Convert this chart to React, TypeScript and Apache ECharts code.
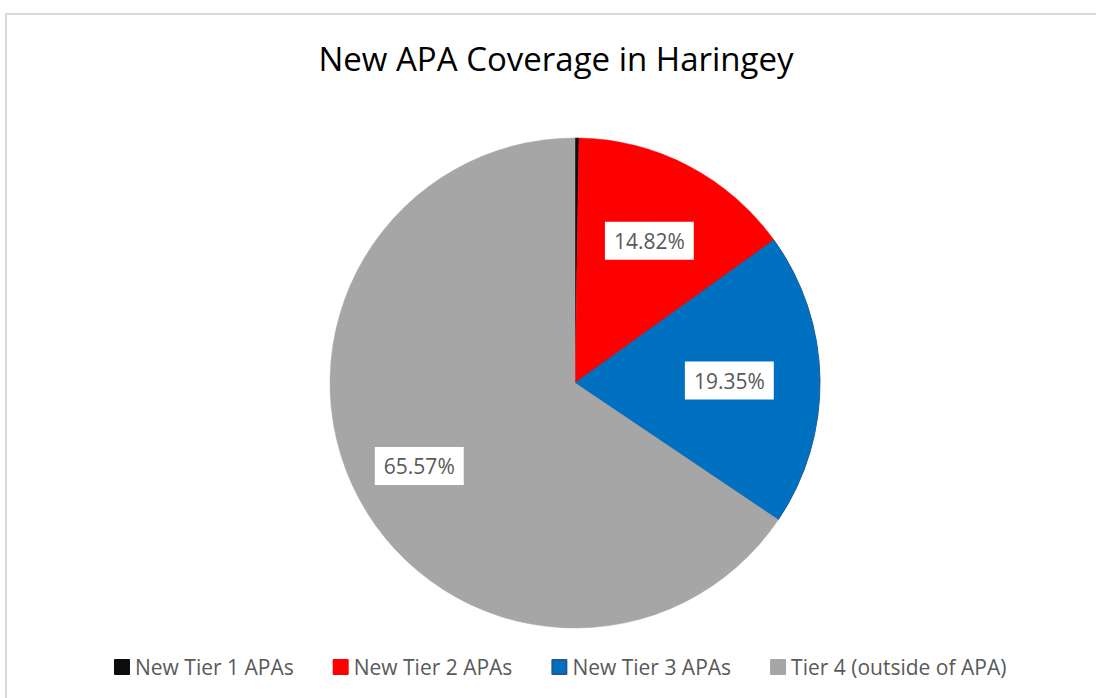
import React, { useEffect, useRef } from "react";
import * as echarts from "echarts";

const categories = ["New Tier 1 APAs", "New Tier 2 APAs", "New Tier 3 APAs", "Tier 4 (outside of APA)"];
const values = [0.26, 14.82, 19.35, 65.57];
const colors = ["#0D0D0D", "#FF0000", "#0070C0", "#A6A6A6"];
const borderColors = ["#0D0D0D", "#FF0000", "#1F5A96", "#A6A6A6"];
const showLabel = [false, true, true, true];
const labelRadiusFrac = [0.6, 0.655, 0.63, 0.72];

const CX = 575;
const CY = 383;
const R = 245;
const FONT = "'Open Sans', 'Liberation Sans', sans-serif";

export default function App() {
  const ref = useRef<HTMLDivElement>(null);
  useEffect(() => {
    if (!ref.current) return;
    const chart = echarts.init(ref.current, undefined, { renderer: "svg" });
    const total = values.reduce((a, b) => a + b, 0);
    const cum: number[] = [];
    let acc = 0;
    values.forEach((v) => {
      cum.push(acc + v / 2);
      acc += v;
    });
    chart.setOption({
      animation: false,
      backgroundColor: "#ffffff",
      title: {
        text: "New APA Coverage in Haringey",
        left: 551,
        textAlign: "center",
        top: 37,
        textStyle: { fontFamily: FONT, fontSize: 33, fontWeight: "normal", color: "#000000" },
      },
      graphic: [
        {
          type: "rect",
          shape: { x: 6, y: 14, width: 1200, height: 800 },
          style: { fill: "none", stroke: "#D9D9D9", lineWidth: 2 },
          silent: true,
        },
      ],
      legend: {
        data: categories,
        left: 114,
        top: 656,
        padding: 0,
        itemWidth: 14,
        itemHeight: 14,
        itemGap: 39,
        icon: "rect",
        textStyle: { fontFamily: FONT, fontSize: 21, color: "#595959", lineHeight: 22, padding: [0, 0, 0, 1] },
      },
      series: [
        {
          type: "pie",
          center: [CX, CY],
          radius: [0, R],
          startAngle: 90,
          clockwise: true,
          avoidLabelOverlap: false,
          data: categories.map((name, i) => ({
            name,
            value: values[i],
            itemStyle: { color: colors[i], borderColor: borderColors[i], borderWidth: i === 2 ? 1 : 0.5 },
            label: { show: showLabel[i] },
          })),
          label: {
            show: true,
            position: "inside",
            formatter: (p: any) => p.value.toFixed(2) + "%",
            fontFamily: FONT,
            fontSize: 21,
            color: "#595959",
            backgroundColor: "#ffffff",
            padding: [8, 9, 8, 9],
            lineHeight: 22,
          },
          labelLine: { show: false },
          labelLayout: (params: any) => {
            const i = params.dataIndex;
            const ang = (cum[i] / total) * Math.PI * 2;
            const r = R * labelRadiusFrac[i];
            return {
              x: CX + r * Math.sin(ang),
              y: CY - r * Math.cos(ang),
              align: "center",
              verticalAlign: "middle",
            };
          },
          emphasis: { disabled: true },
        },
      ],
    });
    return () => chart.dispose();
  }, []);
  return (
    <div style={{ position: "fixed", left: 0, top: 0, width: 1096, height: 698, background: "#fff" }}>
      <div ref={ref} style={{ width: 1096, height: 698 }} />
    </div>
  );
}
